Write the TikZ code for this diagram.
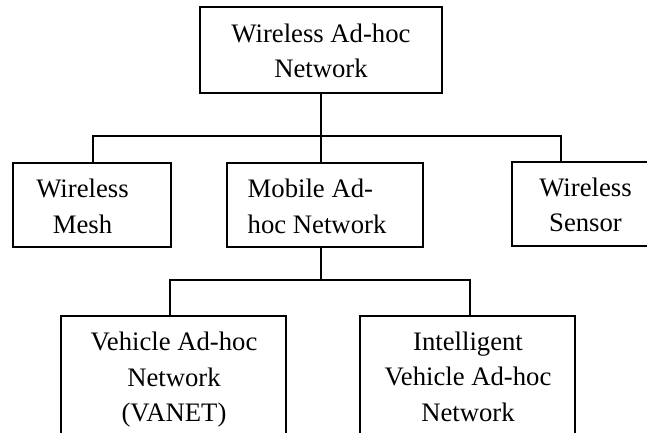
\documentclass[tikz,border=0pt]{standalone}
\usepackage{fontspec}
\setmainfont{Liberation Serif}
\begin{document}
\begin{tikzpicture}[x=1pt,y=-1pt,
  box/.style={draw, line width=1.7pt, rectangle, inner sep=0pt},
  lbl/.style={inner sep=0pt, align=center, font=\fontsize{26.7}{35.5}\selectfont},
  conn/.style={line width=1.7pt}]
\useasboundingbox (0,0) rectangle (647,432);
\clip (0,0) rectangle (647,432);
% boxes
\node[box, minimum width=242pt, minimum height=86pt] (top) at (321,50) {};
\node[box, minimum width=158pt, minimum height=84pt] (mesh) at (92,205) {};
\node[box, minimum width=196pt, minimum height=84pt] (mobile) at (325,205) {};
\node[box, minimum width=140pt, minimum height=84pt] (sensor) at (582,204) {};
\node[box, minimum width=225pt, minimum height=130pt] (vanet) at (173.5,381) {};
\node[box, minimum width=215pt, minimum height=130pt] (intel) at (467.5,381) {};
% texts
\node[lbl] (ttop) at (321,50.8) {Wireless Ad-hoc\\Network};
\node[lbl] (tmesh) at (82.5,206.3) {Wireless\\Mesh};
\node[lbl, align=left, anchor=west] (tmobile) at (247.5,206.3) {Mobile Ad-\\hoc Network};
\node[lbl] (tsensor) at (585.5,205) {Wireless\\Sensor};
\node[lbl] (tvanet) at (174,379.6) {Vehicle Ad-hoc\\Network\\(VANET)};
\node[lbl] (tintel) at (468,376.8) {Intelligent\\Vehicle Ad-hoc\\Network};
% connectors
\coordinate (busL) at (93,136);
\coordinate (busR) at (561,136);
\draw[conn] (mesh.north -| busL) -- (busL) -- (busR) -- (sensor.north -| busR);
\draw[conn] (top.south) -- (top.south |- mobile.north);
\coordinate (bustL) at (170,280);
\coordinate (bustR) at (470,280);
\draw[conn] (mobile.south -| top.south) -- (top.south |- bustL);
\draw[conn] (vanet.north -| bustL) -- (bustL) -- (bustR) -- (intel.north -| bustR);
\end{tikzpicture}
\end{document}
